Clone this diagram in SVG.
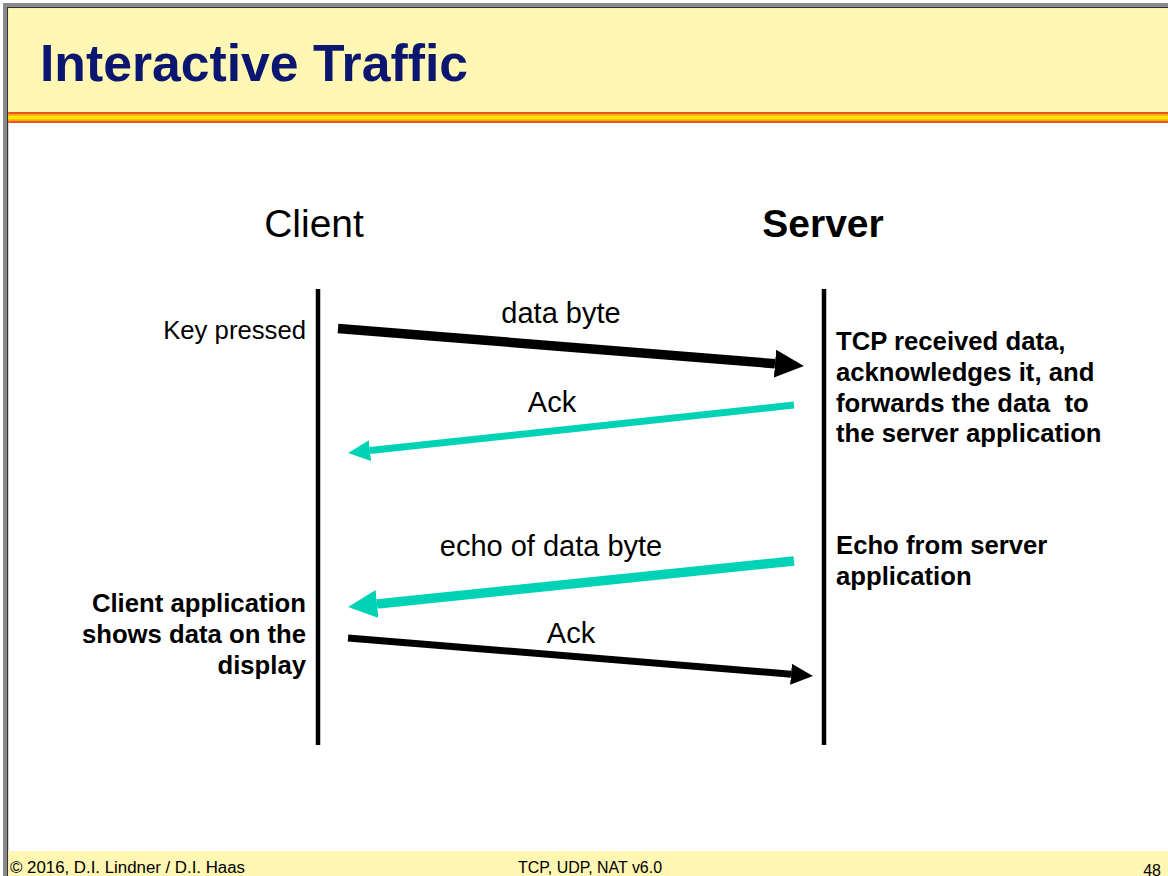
<svg xmlns="http://www.w3.org/2000/svg" width="1168" height="876" viewBox="0 0 1168 876">
  <style>
    text { font-family: "Liberation Sans", Arial, sans-serif; fill: #000; }
    .title { font-size: 52px; font-weight: bold; fill: #0b1670; }
    .party { font-size: 39px; }
    .msg { font-size: 29px; text-anchor: middle; }
    .note { font-size: 25.7px; }
    .noteB { font-size: 25.7px; font-weight: bold; }
    .end { text-anchor: end; }
    .foot { font-size: 16px; }
    .life { stroke: #000; stroke-width: 4.5; }
    .big { stroke-width: 9.5; fill: none; }
    .small { stroke-width: 7; fill: none; }
    .black { stroke: #000; }
    .teal { stroke: #00d3b5; }
  </style>
  <defs>
    <marker id="headBigBlack" markerUnits="userSpaceOnUse" markerWidth="30" markerHeight="30" refX="0" refY="14" orient="auto">
      <path d="M0,0 L29,14 L0,28 z" fill="#000"/>
    </marker>
    <marker id="headBigTeal" markerUnits="userSpaceOnUse" markerWidth="30" markerHeight="30" refX="0" refY="14" orient="auto">
      <path d="M0,0 L29,14 L0,28 z" fill="#00d3b5"/>
    </marker>
    <marker id="headSmallBlack" markerUnits="userSpaceOnUse" markerWidth="24" markerHeight="22" refX="0" refY="10.5" orient="auto">
      <path d="M0,0 L22,10.5 L0,21 z" fill="#000"/>
    </marker>
    <marker id="headSmallTeal" markerUnits="userSpaceOnUse" markerWidth="24" markerHeight="22" refX="0" refY="10.5" orient="auto">
      <path d="M0,0 L22,10.5 L0,21 z" fill="#00d3b5"/>
    </marker>
  </defs>

  <!-- slide frame -->
  <g id="frame">
    <rect x="0" y="0" width="1168" height="876" fill="#ffffff"/>
    <rect x="3" y="3" width="1165" height="4.5" fill="#8a8a8a"/>
    <rect x="3" y="3" width="5" height="873" fill="#8a8a8a"/>
    <rect x="7" y="7" width="1161" height="1.2" fill="#333"/>
    <rect x="7" y="7" width="1.2" height="869" fill="#333"/>
    <rect x="8.2" y="8.2" width="1160" height="104" fill="#fff7b3"/>
    <!-- header rule -->
    <rect x="8.2" y="112" width="1160" height="11" fill="#e5501c"/>
    <rect x="8.2" y="113.8" width="1160" height="7.4" fill="#f6a21c"/>
    <rect x="8.2" y="115.6" width="1160" height="3.8" fill="#ffe600"/>
    <!-- footer band -->
    <rect x="8.2" y="851" width="1160" height="25" fill="#fff7b3"/>
  </g>

  <g id="title">
    <text class="title" x="40" y="81" textLength="428" lengthAdjust="spacingAndGlyphs">Interactive Traffic</text>
  </g>

  <g id="client">
    <text class="party" x="314" y="237" text-anchor="middle">Client</text>
    <line class="life" x1="318" y1="289" x2="318" y2="745"/>
  </g>

  <g id="server">
    <text class="party" x="823" y="237" text-anchor="middle" font-weight="bold">Server</text>
    <line class="life" x1="824" y1="289" x2="824" y2="745"/>
  </g>

  <g id="connectors">
    <line class="big black" x1="338" y1="328.5" x2="775" y2="363.7" marker-end="url(#headBigBlack)"/>
    <line class="small teal" x1="794" y1="405" x2="370" y2="450.6" marker-end="url(#headSmallTeal)"/>
    <line class="big teal" x1="794" y1="561" x2="377" y2="604" marker-end="url(#headBigTeal)"/>
    <line class="small black" x1="348" y1="638" x2="791" y2="674.2" marker-end="url(#headSmallBlack)"/>
  </g>

  <g id="labels">
    <text class="msg" x="561" y="323">data byte</text>
    <text class="msg" x="552" y="412">Ack</text>
    <text class="msg" x="551" y="556">echo of data byte</text>
    <text class="msg" x="571" y="643">Ack</text>
  </g>

  <g id="client-notes">
    <text class="note end" x="306" y="339">Key pressed</text>
    <text class="noteB end" x="306" y="612">Client application</text>
    <text class="noteB end" x="306" y="643">shows data on the</text>
    <text class="noteB end" x="306" y="674">display</text>
  </g>

  <g id="server-notes">
    <text class="noteB" x="836" y="350">TCP received data,</text>
    <text class="noteB" x="836" y="381">acknowledges it, and</text>
    <text class="noteB" x="836" y="412" xml:space="preserve">forwards the data  to</text>
    <text class="noteB" x="836" y="442">the server application</text>
    <text class="noteB" x="836" y="554">Echo from server</text>
    <text class="noteB" x="836" y="585">application</text>
  </g>

  <g id="footer">
    <text class="foot" x="10" y="873" textLength="235" lengthAdjust="spacingAndGlyphs">© 2016, D.I. Lindner / D.I. Haas</text>
    <text class="foot" x="518" y="873" textLength="144" lengthAdjust="spacingAndGlyphs">TCP, UDP, NAT v6.0</text>
    <text class="foot" x="1161" y="876" text-anchor="end" font-size="19">48</text>
  </g>
</svg>
